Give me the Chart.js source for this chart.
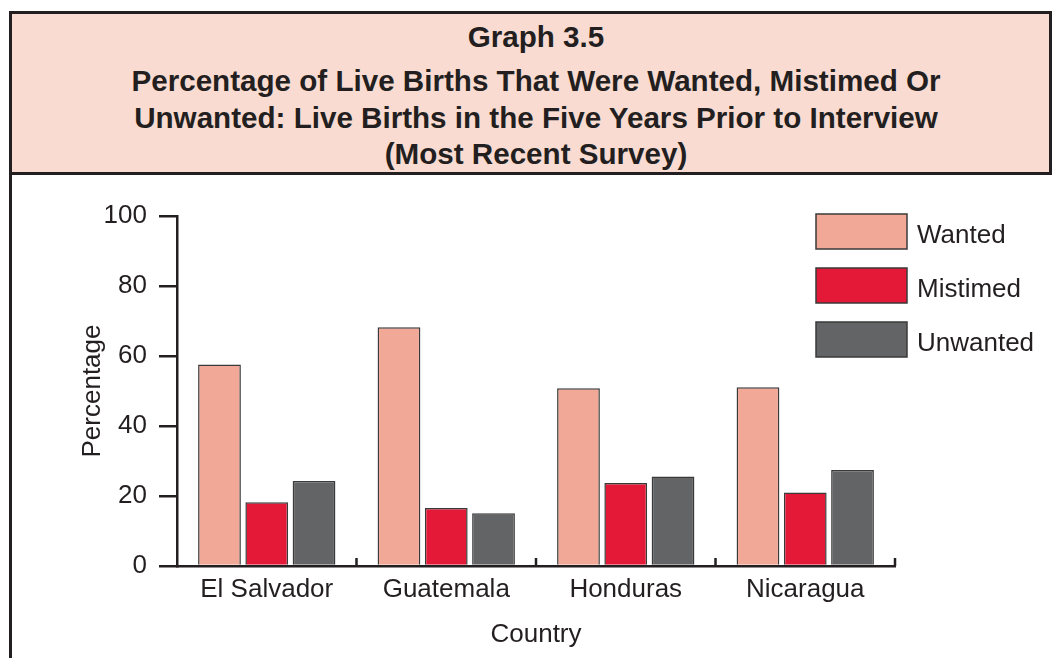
<!DOCTYPE html>
<html>
<head>
<meta charset="utf-8">
<script src="https://cdn.jsdelivr.net/npm/chart.js@4.4.1/dist/chart.umd.min.js"></script>
<style>
  html, body { margin: 0; padding: 0; background: #fff; }
  body { width: 1052px; height: 658px; position: relative; overflow: hidden;
         font-family: "Liberation Sans", Arial, sans-serif; color: #231f20; }
  #head { position: absolute; left: 9px; top: 11px; width: 1043px; height: 164px;
          box-sizing: border-box; border: 3px solid #231f20; background: #f9dbd2; }
  #leftline { position: absolute; left: 9px; top: 175px; width: 3px; height: 483px; background: #231f20; }
  .t { position: absolute; left: 10px; width: 1052px; text-align: center; font-weight: bold;
       font-size: 29.6px; line-height: 36.5px; }
  #wrap { position: absolute; left: 0; top: 0; width: 1052px; height: 658px; }
</style>
</head>
<body>
<div id="head"></div>
<div id="leftline"></div>
<div class="t" style="top:19px">Graph 3.5</div>
<div class="t" style="top:63px">Percentage of Live Births That Were Wanted, Mistimed Or<br>Unwanted: Live Births in the Five Years Prior to Interview<br>(Most Recent Survey)</div>
<div id="wrap"><canvas id="chart" width="1052" height="658"></canvas></div>
<script>
// data
var countries = ['El Salvador', 'Guatemala', 'Honduras', 'Nicaragua'];
var wanted    = [57.6, 68.2, 50.8, 51.1];
var mistimed  = [18.2, 16.6, 23.7, 21.0];
var unwanted  = [24.3, 15.1, 25.6, 27.4];
var yTicks    = [0, 20, 40, 60, 80, 100];

var ink = '#231f20';
var fontFam = '"Liberation Sans", Arial, sans-serif';

// little inward ticks between the countries
var catTicks = {
  id: 'catTicks',
  afterDatasetsDraw(chart) {
    var x = chart.scales.x, c = chart.ctx;
    var n = chart.data.labels.length;
    c.save();
    c.strokeStyle = ink;
    c.lineWidth = 2.5;
    for (var i = 1; i <= n; i++) {
      var px = x.left + i * (x.right - x.left) / n;
      c.beginPath();
      c.moveTo(px, x.top);
      c.lineTo(px, x.top - 8);
      c.stroke();
    }
    c.restore();
  }
};

// legend drawn as a column at the top right of the plot
var boxLegend = {
  id: 'boxLegend',
  afterDraw(chart) {
    var c = chart.ctx;
    c.save();
    c.font = '26px ' + fontFam;
    c.textBaseline = 'middle';
    c.textAlign = 'left';
    chart.data.datasets.forEach(function (ds, i) {
      var y = 214 + i * 54;
      c.fillStyle = ds.backgroundColor;
      c.fillRect(816, y, 91, 35);
      c.strokeStyle = '#3a3a3a';
      c.lineWidth = 1.5;
      c.strokeRect(816, y, 91, 35);
      c.fillStyle = ink;
      c.fillText(ds.label, 917, y + 22);
    });
    c.restore();
  }
};

var bar = { categoryPercentage: 0.79, barPercentage: 0.905, borderWidth: 1.5, borderColor: '#3a3a3a' };

new Chart(document.getElementById('chart'), {
  type: 'bar',
  data: {
    labels: countries,
    datasets: [
      Object.assign({ label: 'Wanted',   data: wanted,   backgroundColor: '#f2a896' }, bar),
      Object.assign({ label: 'Mistimed', data: mistimed, backgroundColor: '#e31937' }, bar),
      Object.assign({ label: 'Unwanted', data: unwanted, backgroundColor: '#636466' }, bar)
    ]
  },
  options: {
    responsive: false,
    animation: false,
    layout: { padding: { top: 216, right: 157, left: 0, bottom: 0 } },
    plugins: { legend: { display: false }, tooltip: { enabled: false } },
    scales: {
      x: {
        grid: { display: false, drawTicks: false },
        border: { display: true, color: ink, width: 2.5 },
        ticks: { color: ink, font: { family: fontFam, size: 26 }, padding: 8 },
        title: { display: true, text: 'Country', color: ink, font: { family: fontFam, size: 26 }, padding: { top: 8, bottom: 8 } },
        afterFit(s) { s.height = 92; }
      },
      y: {
        min: 0, max: 100,
        afterBuildTicks(s) { s.ticks = yTicks.map(function (v) { return { value: v }; }); },
        grid: { drawOnChartArea: false, drawTicks: true, tickLength: 18, color: ink, lineWidth: 2.5 },
        border: { display: true, color: ink, width: 2.5 },
        ticks: { color: ink, font: { family: fontFam, size: 26 }, padding: 12 },
        title: { display: true, text: 'Percentage', color: ink, font: { family: fontFam, size: 26 }, padding: { top: 77, bottom: 0 } },
        afterFit(s) { s.width = 177; }
      }
    }
  },
  plugins: [catTicks, boxLegend]
});
</script>
</body>
</html>
